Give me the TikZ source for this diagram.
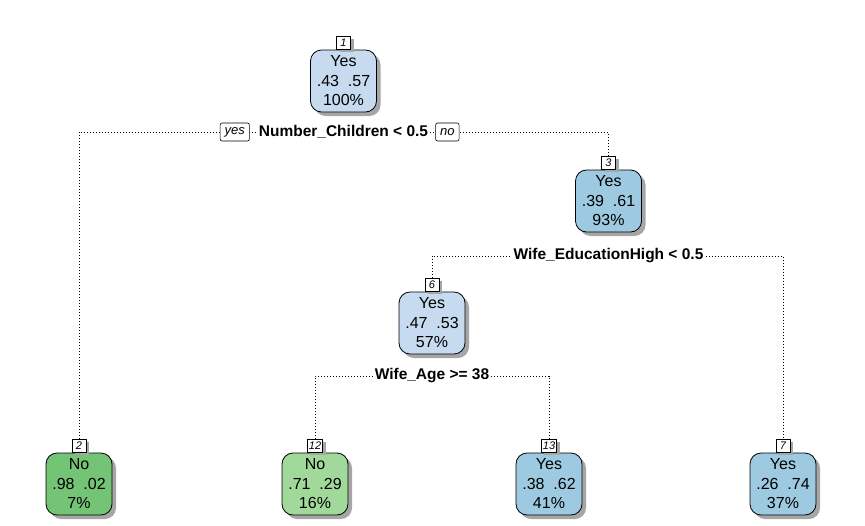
\documentclass[tikz,border=0pt]{standalone}
\usepackage{fontspec}
\setmainfont{Liberation Sans}
\usetikzlibrary{positioning, shadows, backgrounds}
\definecolor{lightblue}{HTML}{C6DBEF}
\definecolor{midblue}{HTML}{9ECAE1}
\definecolor{darkgreen}{HTML}{74C476}
\definecolor{lightgreen}{HTML}{A1D99B}
\tikzstyle{treenode} = [rectangle, rounded corners=11pt,
minimum width=66pt, minimum height=62pt,
align=center, inner sep=2pt,
font=\fontsize{16}{19.5}\selectfont,
draw=black, line width=0.8pt,
drop shadow={shadow xshift=4pt, shadow yshift=-4pt, fill=black!35, opacity=1}]
\tikzstyle{yesnode} = [treenode, fill=lightblue]
\tikzstyle{yesleaf} = [treenode, fill=midblue]
\tikzstyle{noleaf} = [treenode, fill=darkgreen]
\tikzstyle{noleafb} = [treenode, fill=lightgreen]
\tikzstyle{tag} = [rectangle, draw=black, fill=white, line width=0.6pt,
minimum width=14pt, minimum height=13pt, inner sep=1.5pt,
font=\fontsize{11}{11}\selectfont\itshape,
drop shadow={shadow xshift=3pt, shadow yshift=-3pt, fill=black!35, opacity=1}]
\tikzstyle{split} = [fill=white, inner sep=2pt, font=\fontsize{15.5}{16}\selectfont\bfseries]
\tikzstyle{answer} = [rectangle, rounded corners=2pt, draw=black, fill=white, line width=0.6pt,
inner xsep=4.5pt, inner ysep=2pt, minimum height=18pt, font=\fontsize{13}{13}\selectfont\itshape]
\tikzstyle{branch} = [line width=0.8pt, dash pattern=on 0.8pt off 2.2pt]

\begin{document}
\begin{tikzpicture}[node distance=120pt]
\useasboundingbox (0,0) rectangle (865pt,-525pt);
                \node (n1) [yesnode] at (343.5pt,-81pt) {Yes\\.43\ \ .57\\100\%};
                \node (n3) [yesleaf, below of=n1, xshift=265pt] {Yes\\.39\ \ .61\\93\%};
                \node (n6) [yesnode, below of=n3, xshift=-176.5pt, yshift=-2pt] {Yes\\.47\ \ .53\\57\%};
                \node (n2) [noleaf, below of=n1, xshift=-264.5pt, yshift=-283pt] {No\\.98\ \ .02\\7\%};
                \node (n12) [noleafb, below of=n6, xshift=-117pt, yshift=-41pt] {No\\.71\ \ .29\\16\%};
                \node (n13) [yesleaf, below of=n6, xshift=117pt, yshift=-41pt] {Yes\\.38\ \ .62\\41\%};
                \node (n7) [yesleaf, below of=n3, xshift=174.5pt, yshift=-163pt] {Yes\\.26\ \ .74\\37\%};

                \node (t1) [tag, above=0pt of n1] {1};
                \node (t3) [tag, above=0pt of n3] {3};
                \node (t6) [tag, above=0pt of n6] {6};
                \node (t2) [tag, above=0pt of n2] {2};
                \node (t12) [tag, above=0pt of n12] {12};
                \node (t13) [tag, above=0pt of n13] {13};
                \node (t7) [tag, above=0pt of n7] {7};

                \node (s1) [split, below of=n1, node distance=51pt] {Number\_Children < 0.5};
                \node (s3) [split, below of=n3, node distance=55pt] {Wife\_EducationHigh < 0.5};
                \node (s6) [split, below of=n6, node distance=53pt] {Wife\_Age >= 38};

                \node (yes1) [answer, left=7pt of s1] {yes};
                \node (no1) [answer, right=5pt of s1] {no};

                \begin{scope}[on background layer]
                \draw [branch] (t2.north) |- (s1) -| (t3.north);

                \draw [branch] (t6.north) |- (s3) -| (t7.north);

                \draw [branch] (t12.north) |- (s6) -| (t13.north);
                \end{scope}
            \end{tikzpicture}
\end{document}
